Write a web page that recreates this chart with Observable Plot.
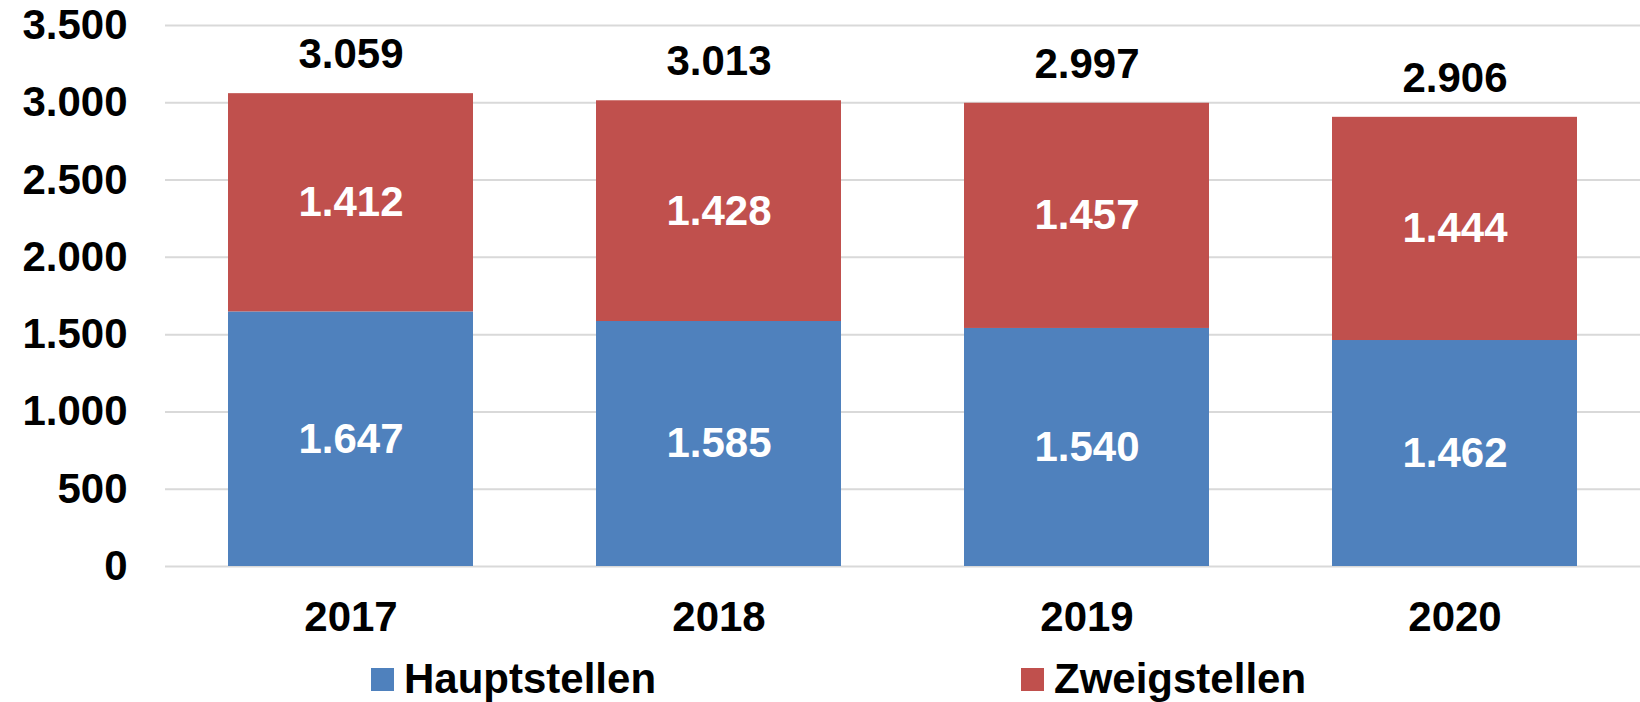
<!DOCTYPE html>
<html>
<head>
<meta charset="utf-8">
<script src="https://cdn.jsdelivr.net/npm/d3@7"></script>
<script src="https://cdn.jsdelivr.net/npm/@observablehq/plot@0.6"></script>
<style>
  html, body { margin: 0; padding: 0; background: #fff; }
  body { width: 1640px; height: 702px; position: relative; overflow: hidden;
         font-family: "Liberation Sans", Arial, sans-serif; }
  .legend-item { position: absolute; top: 658px; display: flex; align-items: center;
                 font-size: 42px; font-weight: bold; line-height: 42px; color: #000; white-space: nowrap; }
  .swatch { width: 23px; height: 23px; margin-right: 10px; }
</style>
</head>
<body>
<div id="chart"></div>
<script>
const years = ["2017", "2018", "2019", "2020"];
const seriesNames = ["Hauptstellen", "Zweigstellen"];
const hauptstellen = [1647, 1585, 1540, 1462];
const zweigstellen = [1412, 1428, 1457, 1444];
const yTicks = [0, 500, 1000, 1500, 2000, 2500, 3000, 3500];
const colors = ["#4F81BD", "#C0504D"];

const fmt = d3.formatLocale({decimal: ",", thousands: ".", grouping: [3], currency: ["", "€"]}).format(",");

const data = [];
years.forEach((yr, i) => {
  data.push({year: yr, series: seriesNames[0], value: hauptstellen[i]});
  data.push({year: yr, series: seriesNames[1], value: zweigstellen[i]});
});
const totals = years.map((yr, i) => ({year: yr, total: hauptstellen[i] + zweigstellen[i]}));

const chart = Plot.plot({
  width: 1640,
  height: 650,
  marginLeft: 165,
  marginRight: 0,
  marginTop: 25,
  marginBottom: 84,
  style: {fontFamily: "'Liberation Sans', Arial, sans-serif", fontSize: "42px", fontWeight: "bold", color: "#000", background: "#fff"},
  x: {domain: years, paddingInner: 0.333, paddingOuter: 0.1667, label: null},
  y: {domain: [0, 3500], label: null},
  color: {domain: seriesNames, range: colors},
  marks: [
    Plot.ruleY(yTicks, {stroke: "#d9d9d9", strokeWidth: 2}),
    Plot.barY(data, Plot.stackY({x: "year", y: "value", fill: "series", z: "series"})),
    Plot.text(data, Plot.stackY({x: "year", y: "value", z: "series", text: d => fmt(d.value), fill: "white", fontSize: 42, fontWeight: "bold"})),
    Plot.text(totals, {x: "year", y: "total", text: d => fmt(d.total), dy: -39, fill: "black", fontSize: 42, fontWeight: "bold"}),
    Plot.axisY({ticks: yTicks, tickSize: 0, tickPadding: 38, tickFormat: fmt, fontSize: 42, fontWeight: "bold", label: null}),
    Plot.axisX({tickSize: 0, tickPadding: 35, fontSize: 42, fontWeight: "bold", label: null})
  ]
});
document.getElementById("chart").appendChild(chart);

const legendLefts = [371, 1021];
seriesNames.forEach((name, i) => {
  const item = document.createElement("div");
  item.className = "legend-item";
  item.style.left = legendLefts[i] + "px";
  const sw = document.createElement("span");
  sw.className = "swatch";
  sw.style.background = colors[i];
  const label = document.createElement("span");
  label.textContent = name;
  item.appendChild(sw);
  item.appendChild(label);
  document.body.appendChild(item);
});
</script>
</body>
</html>
